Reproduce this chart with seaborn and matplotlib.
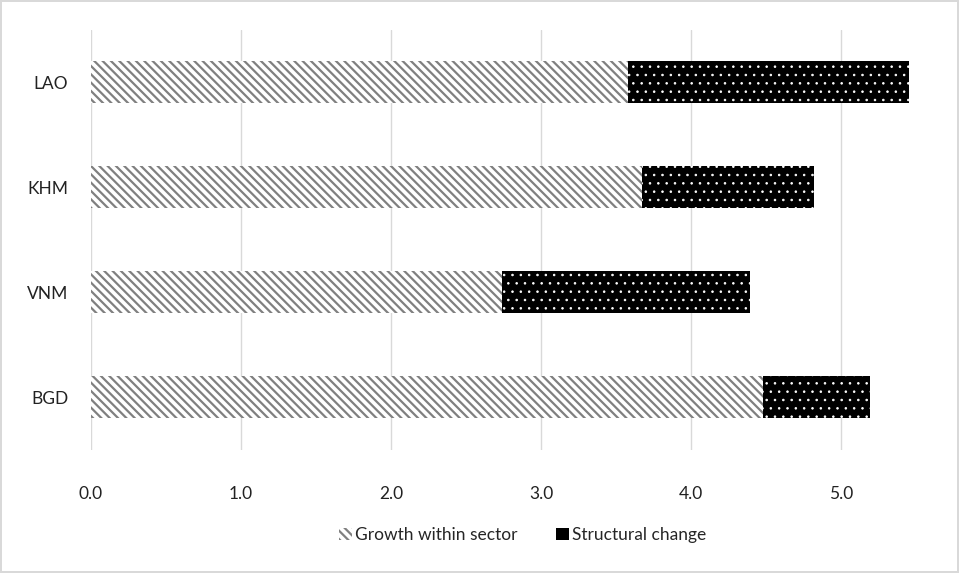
import pandas as pd
import matplotlib.pyplot as plt
import seaborn as sns
from matplotlib.patches import Patch

# Values
countries = ["LAO", "KHM", "VNM", "BGD"]
growth_within = [3.58, 3.67, 2.74, 4.48]
structural = [1.87, 1.15, 1.65, 0.71]
x_ticks = [0, 1, 2, 3, 4, 5]

df = pd.DataFrame({"country": countries, "growth": growth_within, "structural": structural})
df["total"] = df["growth"] + df["structural"]

sns.set_style("white")
plt.rcParams["font.family"] = ["Lato", "DejaVu Sans"]

fig = plt.figure(figsize=(9.59, 5.73), dpi=100)
ax = fig.add_axes([0.0944, 0.2147, 0.877, 0.733])

# Stacked bars: total (structural, black dotted) first, growth on top
plt.rcParams["hatch.linewidth"] = 0.6
sns.barplot(data=df, x="total", y="country", orient="h", ax=ax, width=0.4,
            color="black", edgecolor="white", linewidth=0, hatch="..", saturation=1)
plt.rcParams["hatch.linewidth"] = 1.6
sns.barplot(data=df, x="growth", y="country", orient="h", ax=ax, width=0.4,
            color="white", edgecolor="#808080", linewidth=0, hatch="\\\\\\\\", saturation=1)

ax.set_xlim(0, 5.6)
ax.set_xticks(x_ticks)
ax.set_xticklabels([f"{t:.1f}" for t in x_ticks])
ax.xaxis.grid(True, color="#d9d9d9", linewidth=1)
ax.set_axisbelow(True)
for s in ax.spines.values():
    s.set_visible(False)
ax.tick_params(axis="x", length=0, pad=26, labelsize=12.5, colors="#222222")
ax.tick_params(axis="y", length=0, pad=16, labelsize=12.5, colors="#222222")
ax.set_xlabel("")
ax.set_ylabel("")

handles = [
    Patch(facecolor="white", edgecolor="#808080", hatch="\\\\\\\\", linewidth=0, label="Growth within sector"),
    Patch(facecolor="black", edgecolor="black", linewidth=0, label="Structural change"),
]
fig.legend(handles=handles, loc="center", bbox_to_anchor=(0.545, 0.066), ncol=2,
           frameon=False, fontsize=12.5, handlelength=0.75, handleheight=0.75,
           handletextpad=0.2, columnspacing=2.2)

fig.patch.set_edgecolor("#d9d9d9")
fig.patch.set_linewidth(1.5)

plt.savefig("out.png", dpi=100, edgecolor=fig.get_edgecolor())
